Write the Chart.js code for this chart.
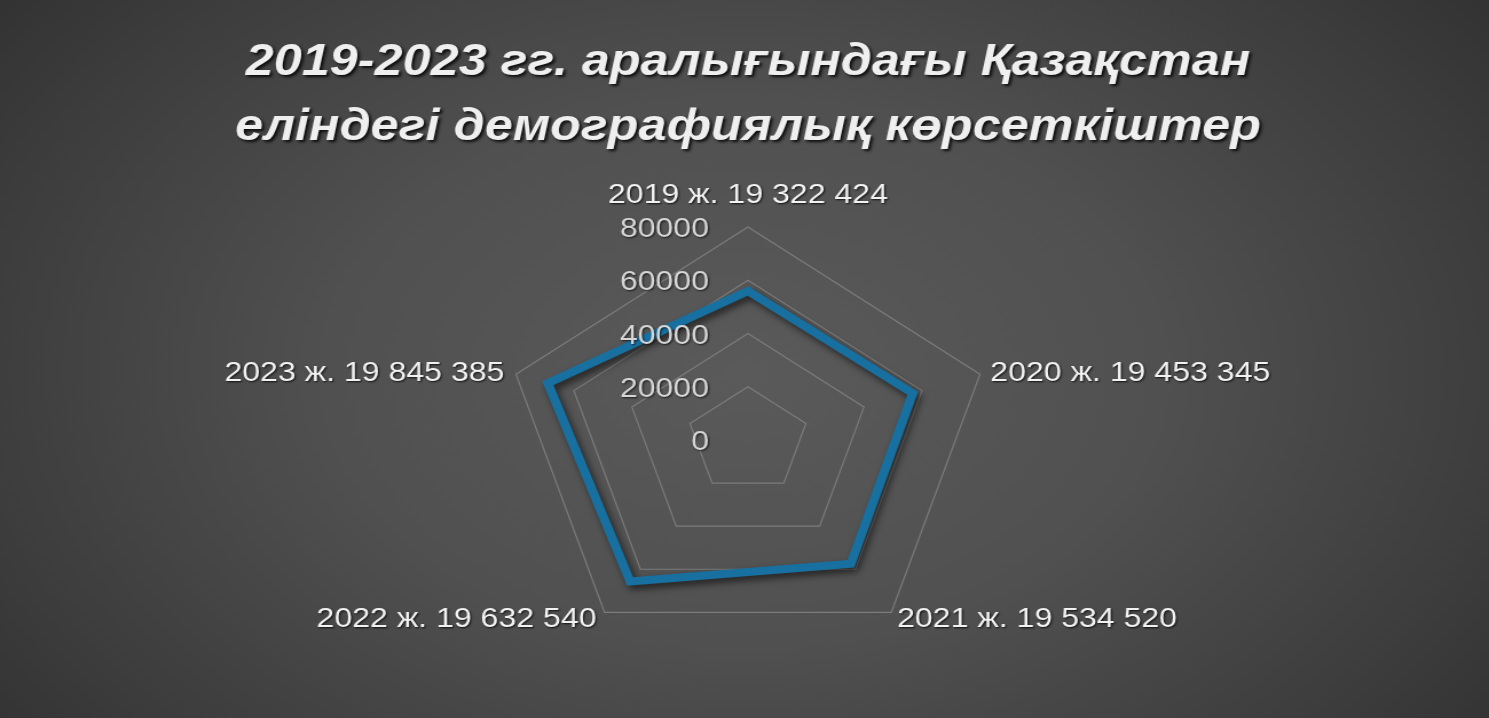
<!DOCTYPE html>
<html>
<head>
<meta charset="utf-8">
<script src="https://cdn.jsdelivr.net/npm/chart.js@4.4.1/dist/chart.umd.min.js"></script>
<style>
  html, body { margin: 0; padding: 0; width: 1489px; height: 718px; overflow: hidden; }
  body {
    background: radial-gradient(ellipse 70% 95% at 50% 52%, #5a5a5a 0%, #505050 40%, #3c3c3c 75%, #2c2c2c 100%);
  }
  #wrap { width: 1300px; height: 718px; transform: scaleX(1.1454); transform-origin: 0 0; }
  #c { display: block; }
</style>
</head>
<body>
<div id="wrap"><canvas id="c" width="1300" height="718"></canvas></div>
<script>
// ---- data ----
const TITLE_LINES = ['2019-2023 гг. аралығындағы Қазақстан', 'еліндегі демографиялық көрсеткіштер'];
const CATEGORIES = ['2019 ж. 19 322 424', '2020 ж. 19 453 345', '2021 ж. 19 534 520', '2022 ж. 19 632 540', '2023 ж. 19 845 385'];
const VALUES = [56000, 56800, 57400, 65700, 69000];
const TICK_VALUES = [0, 20000, 40000, 60000, 80000];
const TICK_LABELS = ['0', '20000', '40000', '60000', '80000'];

const LABEL_FONT = "28px 'Liberation Sans', Arial, sans-serif";
const TITLE_FONT = "italic bold 44px 'Liberation Sans', Arial, sans-serif";

function withShadow(ctx, blur, ox, oy, color) {
  ctx.shadowColor = color;
  ctx.shadowBlur = blur;
  ctx.shadowOffsetX = ox;
  ctx.shadowOffsetY = oy;
}

const lineShadow = {
  id: 'lineShadow',
  beforeDatasetDraw(chart) {
    const ctx = chart.ctx;
    ctx.save();
    withShadow(ctx, 7, 3, 4, 'rgba(0,0,0,0.6)');
  },
  afterDatasetDraw(chart) {
    chart.ctx.restore();
  }
};

const textLayer = {
  id: 'textLayer',
  afterDraw(chart) {
    const ctx = chart.ctx;
    const scale = chart.scales.r;
    const cx = scale.xCenter;
    // title
    ctx.save();
    ctx.font = TITLE_FONT;
    ctx.textAlign = 'center';
    ctx.textBaseline = 'alphabetic';
    ctx.fillStyle = '#efefef';
    withShadow(ctx, 3, 2, 2, 'rgba(0,0,0,0.85)');
    ctx.fillText(TITLE_LINES[0], cx, 75);
    ctx.fillText(TITLE_LINES[1], cx, 140);
    ctx.restore();

    // tick labels (left of vertical axis)
    ctx.save();
    ctx.font = LABEL_FONT;
    ctx.textAlign = 'right';
    ctx.textBaseline = 'alphabetic';
    ctx.fillStyle = '#d6d6d6';
    withShadow(ctx, 2, 1, 1, 'rgba(0,0,0,0.7)');
    scale.ticks.forEach((t, i) => {
      const p = scale.getPointPositionForValue(0, t.value);
      ctx.fillText(TICK_LABELS[i], cx - 34, p.y + 10);
    });
    ctx.restore();

    // category labels
    ctx.save();
    ctx.font = LABEL_FONT;
    ctx.fillStyle = '#f2f2f2';
    ctx.textBaseline = 'alphabetic';
    withShadow(ctx, 2, 1, 1, 'rgba(0,0,0,0.8)');
    const R = scale.drawingArea;
    CATEGORIES.forEach((lab, i) => {
      const v = scale.getPointPosition(i, R);
      const dx = v.x - cx;
      const dy = v.y - scale.yCenter;
      let x = v.x, y = v.y;
      if (Math.abs(dx) < 1) {
        ctx.textAlign = 'center';
        y = v.y - 24;
      } else if (dy < 0) {
        ctx.textAlign = dx > 0 ? 'left' : 'right';
        x = v.x + (dx > 0 ? 9 : -10);
        y = v.y + 7;
      } else {
        ctx.textAlign = dx > 0 ? 'left' : 'right';
        x = v.x + (dx > 0 ? 5 : -7);
        y = v.y + 15;
      }
      ctx.fillText(lab, x, y);
    });
    ctx.restore();
  }
};

new Chart(document.getElementById('c'), {
  type: 'radar',
  data: {
    labels: CATEGORIES,
    datasets: [{
      data: VALUES,
      borderColor: '#17709f',
      borderWidth: 8,
      borderJoinStyle: 'miter',
      fill: false,
      pointRadius: 0,
      pointHoverRadius: 0,
      tension: 0
    }]
  },
  options: {
    responsive: false,
    animation: false,
    devicePixelRatio: 1,
    layout: { padding: { top: 227, bottom: 65, left: 6, right: 0 } },
    plugins: { legend: { display: false }, tooltip: { enabled: false }, title: { display: false } },
    scales: {
      r: {
        min: 0,
        max: 80000,
        afterBuildTicks(scale) {
          scale.ticks = TICK_VALUES.map(v => ({ value: v }));
        },
        ticks: { display: false, stepSize: 20000 },
        pointLabels: { display: false },
        angleLines: { display: false },
        grid: { circular: false, color: '#7c7c7c', lineWidth: 1.2 }
      }
    }
  },
  plugins: [lineShadow, textLayer]
});
</script>
</body>
</html>
